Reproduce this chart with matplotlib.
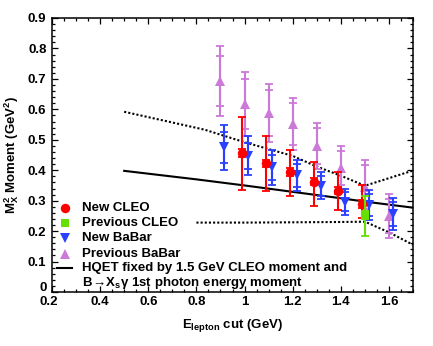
import matplotlib
matplotlib.use("Agg")
import matplotlib.pyplot as plt
from matplotlib.ticker import MultipleLocator, FormatStrFormatter
import matplotlib.transforms as mtransforms
import numpy as np

plt.rcParams['font.family'] = ['Liberation Sans', 'DejaVu Sans']
plt.rcParams['font.weight'] = 'bold'
plt.rcParams['mathtext.default'] = 'regular'

# ---------------- data ----------------
# Previous BaBar
pb_x = [0.9, 1.0, 1.1, 1.2, 1.3, 1.4, 1.5, 1.6]
pb_y = [0.694, 0.618, 0.588, 0.552, 0.480, 0.407, 0.345, 0.250]
pb_tot = [0.115, 0.106, 0.096, 0.085, 0.076, 0.071, 0.087, 0.073]
pb_stat = [0.082, 0.081, 0.075, 0.070, 0.060, 0.055, 0.073, 0.055]

# New BaBar
nb_x = [0.9, 1.0, 1.1, 1.2, 1.3, 1.4, 1.5, 1.6]
nb_y = [0.475, 0.447, 0.409, 0.384, 0.349, 0.297, 0.286, 0.256]
nb_tot = [0.075, 0.064, 0.056, 0.051, 0.044, 0.043, 0.048, 0.053]
nb_stat = [0.051, 0.044, 0.040, 0.038, 0.033, 0.032, 0.035, 0.040]

# New CLEO
nc_x = [1.0, 1.1, 1.2, 1.3, 1.4, 1.5]
nc_y = [0.457, 0.423, 0.394, 0.362, 0.333, 0.289]
nc_tot_lo = [0.123, 0.092, 0.077, 0.079, 0.063, 0.047]
nc_tot_hi = [0.118, 0.088, 0.073, 0.065, 0.060, 0.062]
nc_stat = [0.012, 0.012, 0.012, 0.012, 0.012, 0.012]

# Previous CLEO
pc_x = [1.5]
pc_y = [0.253]
pc_tot_lo = [0.069]
pc_tot_hi = [0.061]
pc_stat = [0.012]

# HQET prediction and band
hq_x = [0.5, 0.8, 1.0, 1.2, 1.4, 1.5, 1.6, 1.7]
hq_y = [0.398, 0.370, 0.350, 0.329, 0.308, 0.297, 0.287, 0.277]
up_x = [0.5, 0.835, 1.0, 1.2, 1.3, 1.4, 1.5, 1.6, 1.7]
up_y = [0.592, 0.533, 0.492, 0.447, 0.412, 0.382, 0.349, 0.374, 0.399]
lo_x = [0.8, 1.0, 1.2, 1.4, 1.5, 1.6, 1.7]
lo_y = [0.228, 0.228, 0.229, 0.230, 0.231, 0.196, 0.155]

labels = ["New CLEO", "Previous CLEO", "New BaBar", "Previous BaBar",
          "HQET fixed by 1.5 GeV CLEO moment and"]
label2 = r"B$\!\rightarrow\!$X$_s$γ 1st photon energy moment"

x_ticks = [0.2, 0.4, 0.6, 0.8, 1.0, 1.2, 1.4, 1.6]
y_ticks = [0, 0.1, 0.2, 0.3, 0.4, 0.5, 0.6, 0.7, 0.8, 0.9]

# offsets used for display
off_nb = 0.016
off_nc = -0.012

c_red = '#ff0000'
c_green = '#66e000'
c_blue = '#2a40ff'
c_purple = '#cc7ad8'

fig = plt.figure(figsize=(4.33, 3.46), dpi=100)
ax = fig.add_axes([0.120, 0.156, 0.834, 0.792])

def draw(x, y, lo, hi, stat, color, marker, ms, z):
    x = np.asarray(x)
    ax.errorbar(x, y, yerr=[lo, hi], fmt='none', ecolor=color, elinewidth=1.5,
                capsize=2.6, capthick=1.3, zorder=z)
    ax.errorbar(x, y, yerr=stat, fmt='none', ecolor=color, elinewidth=1.5,
                capsize=2.6, capthick=1.3, zorder=z)
    ax.plot(x, y, linestyle='none', marker=marker, color=color, ms=ms,
            markeredgewidth=0, zorder=z + 0.5)

# band lines
ax.plot(hq_x, hq_y, color='black', lw=1.5, zorder=2)
ax.plot(up_x, up_y, color='black', lw=1.5, linestyle=(0, (1, 1)), zorder=2)
ax.plot(lo_x, lo_y, color='black', lw=1.5, linestyle=(0, (1, 1)), zorder=2)

draw(pb_x, pb_y, pb_tot, pb_tot, pb_stat, c_purple, '^', 7, 3)
draw(np.asarray(nb_x) + off_nb, nb_y, nb_tot, nb_tot, nb_stat, c_blue, 'v', 7, 4)
draw(np.asarray(nc_x) + off_nc, nc_y, nc_tot_lo, nc_tot_hi, nc_stat, c_red, 'o', 6.8, 5)
draw(pc_x, pc_y, pc_tot_lo, pc_tot_hi, pc_stat, c_green, 's', 6, 6)

ax.set_xlim(0.2, 1.7)
ax.set_ylim(0, 0.9)
ax.set_xticks(x_ticks)
ax.set_yticks(y_ticks)
ax.xaxis.set_minor_locator(MultipleLocator(0.05))
ax.yaxis.set_minor_locator(MultipleLocator(0.02))
ax.xaxis.set_major_formatter(FormatStrFormatter('%g'))
ax.yaxis.set_major_formatter(FormatStrFormatter('%g'))
ax.tick_params(which='both', direction='in', top=True, right=True, width=0.9)
ax.tick_params(which='major', length=4, labelsize=9.5, pad=3)
ax.tick_params(axis='y', which='major', pad=4)
ax.tick_params(which='minor', length=2)
for s in ax.spines.values():
    s.set_linewidth(1.1)
for t in ax.get_xticklabels() + ax.get_yticklabels():
    t.set_fontweight('bold')

fig.canvas.draw()
# ROOT-style: the "0" of the y axis sits a little higher, "0.2" a little left
ylab0 = ax.get_yticklabels()[0]
ylab0.set_transform(ylab0.get_transform() +
                    mtransforms.ScaledTranslation(0, 4 / 72, fig.dpi_scale_trans))
xlab0 = ax.get_xticklabels()[0]
xlab0.set_transform(xlab0.get_transform() +
                    mtransforms.ScaledTranslation(-2 / 72, 0, fig.dpi_scale_trans))

ax.set_xlabel(r"E$_{lepton}$ cut (GeV)", fontsize=9.5, fontweight='bold', labelpad=6)
ax.set_ylabel(r"M$_X^2$ Moment (GeV$^2$)", fontsize=9.5, fontweight='bold', labelpad=5)

# legend (manual, ROOT style)
rows = [0.307, 0.252, 0.197, 0.139, 0.088]
mk = [('o', c_red, 6.8), ('s', c_green, 6), ('v', c_blue, 7), ('^', c_purple, 7)]
for (m, c, s), yy in zip(mk, rows[:4]):
    ax.plot([0.036], [yy], marker=m, color=c, ms=s, markeredgewidth=0,
            transform=ax.transAxes, clip_on=False, linestyle='none')
ax.plot([0.014, 0.056], [rows[4], rows[4]], color='black', lw=1.5,
        transform=ax.transAxes)
for lab, yy in zip(labels, rows):
    ax.text(0.083, yy, lab, transform=ax.transAxes, fontsize=9.5,
            fontweight='bold', va='center', ha='left')
ax.text(0.083, 0.033, label2, transform=ax.transAxes, fontsize=9.5,
        fontweight='bold', va='center', ha='left')

fig.savefig("out.png", dpi=100)
